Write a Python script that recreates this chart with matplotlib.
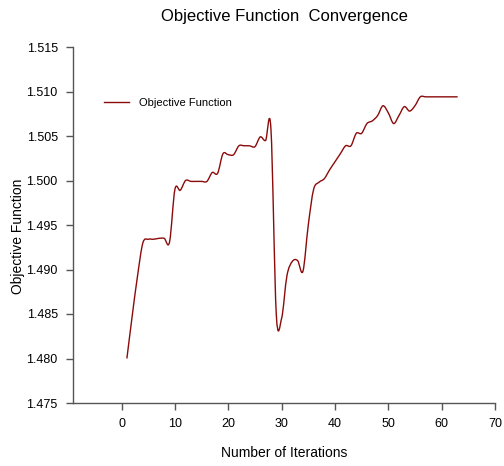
import numpy as np
import matplotlib
matplotlib.use("Agg")
import matplotlib.pyplot as plt
from matplotlib.path import Path
from matplotlib.patches import PathPatch
from matplotlib.lines import Line2D

plt.rcParams['font.family'] = ['Liberation Sans', 'DejaVu Sans']

iterations = list(range(1, 64))
objective = [
    1.4800, 1.4848, 1.4893, 1.4930, 1.4934, 1.4934, 1.4935, 1.4935, 1.4931, 1.4990,
    1.4989, 1.5000, 1.4999, 1.4999, 1.4999, 1.4999, 1.5009, 1.5008, 1.5030, 1.5029,
    1.5029, 1.5039, 1.5039, 1.5039, 1.5038, 1.5049, 1.5045, 1.5058, 1.4850, 1.4845,
    1.4893, 1.4909, 1.4910, 1.4898, 1.4950, 1.4990, 1.4998, 1.5002, 1.5012, 1.5021,
    1.5030, 1.5039, 1.5039, 1.5053, 1.5053, 1.5064, 1.5067, 1.5073, 1.5084, 1.5076,
    1.5064, 1.5073, 1.5083, 1.5078, 1.5084, 1.5094, 1.5094, 1.5094, 1.5094, 1.5094,
    1.5094, 1.5094, 1.5094,
]
title = "Objective Function  Convergence"
xlabel = "Number of Iterations"
ylabel = "Objective Function"
legend_label = "Objective Function"
xticks = [0, 10, 20, 30, 40, 50, 60, 70]
yticks = [1.475, 1.480, 1.485, 1.490, 1.495, 1.500, 1.505, 1.510, 1.515]

color = "#8B0A0A"

fig = plt.figure(figsize=(5.04, 4.66), dpi=100)
ax = fig.add_axes([73/504, 1 - 403/466, (495-73)/504, (403-47)/466])

# smooth curve via cubic Bezier segments (Catmull-Rom control points)
x = np.asarray(iterations, float)
y = np.asarray(objective, float)
n = len(x)
verts = [(x[0], y[0])]
codes = [Path.MOVETO]
for i in range(n - 1):
    i0 = max(i - 1, 0)
    i3 = min(i + 2, n - 1)
    c1 = (x[i] + (x[i+1] - x[i0]) / 6, y[i] + (y[i+1] - y[i0]) / 6)
    c2 = (x[i+1] - (x[i3] - x[i]) / 6, y[i+1] - (y[i3] - y[i]) / 6)
    verts += [c1, c2, (x[i+1], y[i+1])]
    codes += [Path.CURVE4] * 3
patch = PathPatch(Path(verts, codes), facecolor='none', edgecolor=color, lw=1.0)
ax.add_patch(patch)

ax.set_xlim(-9.1, 70)
ax.set_ylim(1.475, 1.515)
ax.set_xticks(xticks)
ax.set_yticks(yticks)
ax.set_xticklabels([str(t) for t in xticks])
ax.set_yticklabels([f"{t:.3f}" for t in yticks])
for s in ['top', 'right']:
    ax.spines[s].set_visible(False)
for s in ['left', 'bottom']:
    ax.spines[s].set_color('#555555')
    ax.spines[s].set_linewidth(1.0)
ax.tick_params(direction='out', length=5, width=1, color='#555555', labelsize=9, pad=6)

ax.set_xlabel(xlabel, fontsize=10, labelpad=11)
ax.set_ylabel(ylabel, fontsize=10)
ax.yaxis.set_label_coords(-0.114, 0.469)
fig.text(0.5*(73+495)/504, 1 - 17/466, title, fontsize=12, ha='center', va='center')

handle = Line2D([], [], color=color, lw=1.0)
ax.legend([handle], [legend_label], loc='upper left', bbox_to_anchor=(0.05, 0.886),
          frameon=False, fontsize=8, handlelength=2.25, handletextpad=0.9)

fig.savefig("out.png", dpi=100)
